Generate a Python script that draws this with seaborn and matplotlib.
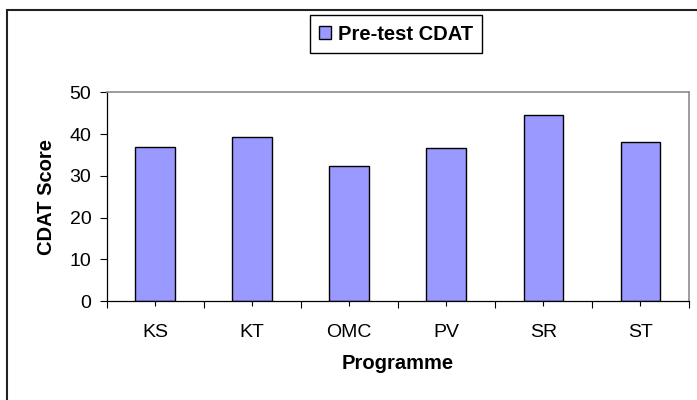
import pandas as pd
import matplotlib
matplotlib.use("Agg")
import matplotlib.pyplot as plt
import seaborn as sns
from matplotlib.patches import Rectangle
from matplotlib.ticker import FixedLocator

programmes = ["KS", "KT", "OMC", "PV", "SR", "ST"]
pretest_cdat = [37.0, 39.3, 32.4, 36.7, 44.7, 38.2]
series_name = "Pre-test CDAT"

df = pd.DataFrame({"Programme": programmes, "CDAT Score": pretest_cdat})

sns.set_style("white")
plt.rcParams["font.family"] = ["Liberation Sans", "DejaVu Sans"]
plt.rcParams["text.color"] = "black"
plt.rcParams["axes.labelcolor"] = "black"
plt.rcParams["xtick.color"] = "black"
plt.rcParams["ytick.color"] = "black"

fig = plt.figure(figsize=(6.97, 4.0), dpi=100)
ax = fig.add_axes([0.153, 0.247, 0.9885 - 0.153, 0.769 - 0.247])

sns.barplot(data=df, x="Programme", y="CDAT Score", color="#9999FF",
            edgecolor="black", linewidth=1.0, width=0.41, saturation=1,
            label=series_name, ax=ax)

ax.set_xlim(-0.5, len(programmes) - 0.5)
ax.set_ylim(0, 50)
ax.set_yticks([0, 10, 20, 30, 40, 50])
ax.xaxis.set_minor_locator(FixedLocator([i - 0.5 for i in range(len(programmes) + 1)]))

ax.tick_params(axis="x", which="major", length=3.5, width=0.8,
               pad=13, labelsize=14)
ax.tick_params(axis="x", which="minor", length=5, width=0.8)
ax.tick_params(axis="y", which="major", length=5, width=0.8,
               pad=6, labelsize=14)
ax.tick_params(bottom=True, left=True, which="both")
ax.tick_params(axis="y", which="minor", left=False)

for side in ["left", "bottom"]:
    ax.spines[side].set_color("black")
    ax.spines[side].set_linewidth(0.9)
for side in ["top", "right"]:
    ax.spines[side].set_color("#8c8c8c")
    ax.spines[side].set_linewidth(1.2)

ax.set_xlabel("Programme", fontsize=14.5, fontweight="bold", labelpad=9)
ax.set_ylabel("CDAT Score", fontsize=14.5, fontweight="bold", labelpad=10)

leg = ax.legend(loc="center", bbox_to_anchor=(0.568, 0.915),
                bbox_transform=fig.transFigure,
                prop={"weight": "bold", "size": 14.5},
                handlelength=0.6, handleheight=0.6, handletextpad=0.35,
                borderpad=0.45, fancybox=False, framealpha=1)
leg.get_frame().set_edgecolor("black")
leg.get_frame().set_linewidth(1.0)

fig.patches.append(Rectangle((7 / 697, -0.1), 1.2, 0.975 + 0.1,
                             transform=fig.transFigure, fill=False,
                             edgecolor="#222222", linewidth=1.5))

fig.savefig("out.png", dpi=100)
